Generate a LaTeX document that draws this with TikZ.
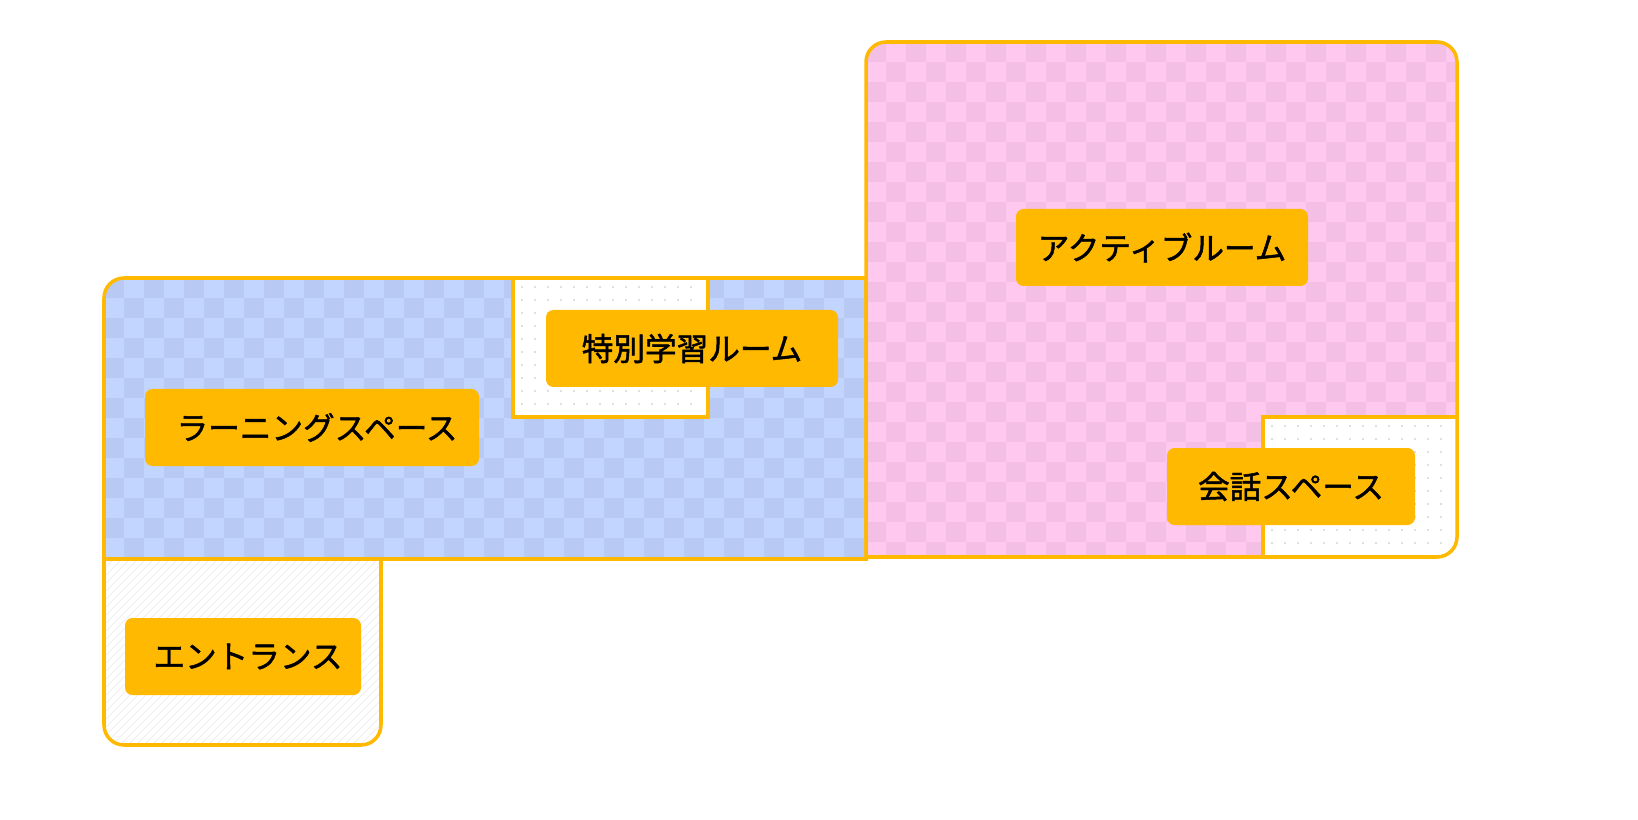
\documentclass[tikz,border=0pt]{standalone}
\usepackage{fontspec}
\newfontfamily\jpfont[FakeBold=1.5]{Noto Sans CJK JP}
\definecolor{roomline}{HTML}{FFB900}
\definecolor{blueA}{HTML}{C2D5FF}
\definecolor{blueB}{HTML}{B8CAF4}
\definecolor{pinkA}{HTML}{FFC9EF}
\definecolor{pinkB}{HTML}{F3BFE4}
\tikzset{
  wall/.style={draw=roomline, line width=2pt},
  tag/.style={fill=roomline, rounded corners=0.15cm, inner sep=0pt,
              font=\jpfont\fontsize{18}{18}\selectfont, text=black}
}
\begin{document}
\begin{tikzpicture}[x=0.02cm,y=-0.02cm]

% learning space
\begin{scope}
\clip (104,559) -- (104,298) arc(180:270:20) -- (866,278) -- (866,559) -- cycle;
\fill[blueA] (104,278) rectangle (866,559);
\foreach \i in {0,2,...,38} \foreach \j in {0,2,...,14} {
  \fill[blueB] (104+\i*20,278+\j*20) rectangle ++(20,20);
  \fill[blueB] (124+\i*20,298+\j*20) rectangle ++(20,20);
}
\end{scope}

% active room
\begin{scope}
\clip (866,557) -- (866,62) arc(180:270:20) -- (1437,42) arc(270:360:20)
  -- (1457,537) arc(0:90:20) -- cycle;
\fill[pinkA] (866,42) rectangle (1457,557);
\foreach \i in {0,2,...,30} \foreach \j in {0,2,...,26} {
  \fill[pinkB] (866+\i*20,42+\j*20) rectangle ++(20,20);
  \fill[pinkB] (886+\i*20,62+\j*20) rectangle ++(20,20);
}
\end{scope}

% entrance
\begin{scope}
\clip (104,559) -- (104,725) arc(180:90:20) -- (361,745) arc(90:0:20) -- (381,559) -- cycle;
\fill[white] (104,559) rectangle (381,745);
\foreach \k in {-200,-192,...,300}
  \draw[gray!18, line width=0.3pt] (104+\k,745) -- ++(200,-200);
\end{scope}

% special room
\fill[white] (513,278) rectangle (708,417);
\foreach \x in {522,535,...,700} \foreach \y in {287,300,...,410}
  \fill[gray!50] (\x,\y) circle (0.9);

% conversation
\begin{scope}
\clip (1263,417) -- (1263,557) -- (1437,557) arc(90:0:20) -- (1457,417) -- cycle;
\fill[white] (1263,417) rectangle (1457,557);
\foreach \x in {1272,1285,...,1450} \foreach \y in {426,439,...,550}
  \fill[gray!50] (\x,\y) circle (0.9);
\end{scope}

% walls
\draw[wall] (104,559) -- (104,298) arc(180:270:20) -- (866,278) -- (866,559) -- cycle;
\draw[wall] (866,557) -- (866,62) arc(180:270:20) -- (1437,42) arc(270:360:20)
  -- (1457,537) arc(0:90:20) -- cycle;
\draw[wall] (104,559) -- (104,725) arc(180:90:20) -- (361,745) arc(90:0:20) -- (381,559);
\draw[wall] (513,278) rectangle (708,417);
\draw[wall] (1457,417) -- (1263,417) -- (1263,557);

% labels
\node[tag, minimum width=334*0.02cm, minimum height=77*0.02cm] (learning) at (312,427.5) {\hspace{0.2cm}ラーニングスペース};
\node[tag, minimum width=292*0.02cm, minimum height=77*0.02cm] (special) at (692,348.5) {特別学習ルーム};
\node[tag, minimum width=292*0.02cm, minimum height=77*0.02cm] (active) at (1162,247.5) {アクティブルーム};
\node[tag, minimum width=248*0.02cm, minimum height=77*0.02cm] (talk) at (1291,486.5) {会話スペース};
\node[tag, minimum width=236*0.02cm, minimum height=77*0.02cm] (entrance) at (243,656.5) {\hspace{0.2cm}エントランス};

\pgfresetboundingbox
\path[use as bounding box] (0,0) rectangle (1638,820);
\end{tikzpicture}
\end{document}
